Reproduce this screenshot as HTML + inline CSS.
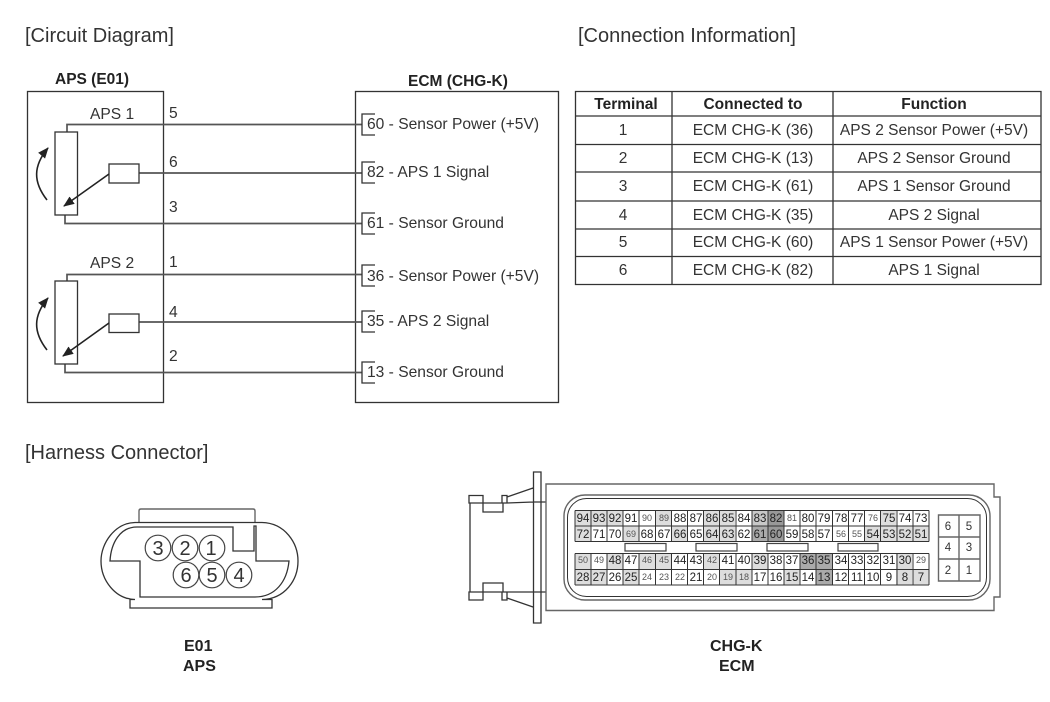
<!DOCTYPE html>
<html><head><meta charset="utf-8"><style>
html,body{margin:0;padding:0;background:#fff}
svg{display:block;filter:blur(.35px)}
text{font-family:"Liberation Sans",sans-serif;fill:#2a2a2a}
.h{font-size:20px;fill:#333}
.b{font-size:15.500px;font-weight:bold;fill:#222}
.l{font-size:15.600px;fill:#333}
.t{font-size:15.500px;text-anchor:middle;fill:#333}
.th{font-size:15.500px;font-weight:bold;text-anchor:middle;fill:#222}
.c{font-size:11.500px;text-anchor:middle;fill:#222}
.s{font-size:9px;text-anchor:middle;fill:#555}
.n{font-size:20px;text-anchor:middle;fill:#333}
.k{font-size:11.500px;text-anchor:middle;fill:#333}
.ln{fill:none;stroke:#333;stroke-width:1.300}
.ar{fill:none;stroke:#222;stroke-width:1.600}
.w{fill:none;stroke:#555;stroke-width:1.700}
.g{fill:none;stroke:#666;stroke-width:1.400}
</style></head><body>
<svg width="1050" height="702" viewBox="0 0 1050 702" xmlns="http://www.w3.org/2000/svg">
<defs><marker id="a" markerWidth="11" markerHeight="9" refX="10" refY="4.500" orient="auto" markerUnits="userSpaceOnUse"><path d="M0 0L11 4.500L0 9Z" fill="#222"/></marker></defs>
<rect width="1050" height="702" fill="#fff"/>
<text class="h" x="25" y="42">[Circuit Diagram]</text>
<text class="h" x="578" y="42">[Connection Information]</text>
<text class="h" x="25" y="459">[Harness Connector]</text>
<text class="b" x="55" y="84">APS (E01)</text>
<text class="b" x="408" y="86">ECM (CHG-K)</text>

<rect class="ln" x="27.500" y="91.500" width="136" height="311"/>
<rect class="ln" x="355.500" y="91.500" width="203" height="311"/>
<text class="l" x="90" y="119">APS 1</text>
<text class="l" x="90" y="268">APS 2</text>
<text class="l" x="169" y="118">5</text>
<text class="l" x="169" y="167">6</text>
<text class="l" x="169" y="212">3</text>
<text class="l" x="169" y="267">1</text>
<text class="l" x="169" y="317">4</text>
<text class="l" x="169" y="361">2</text>

<path class="w" d="M67 132V124.500H362"/>
<path class="w" d="M65 215V223.500H362"/>
<path class="w" d="M139 173H362"/>
<path class="w" d="M67 281V274.500H362"/>
<path class="w" d="M65 364V372.500H362"/>
<path class="w" d="M139 322H362"/>

<rect class="ln" x="55" y="132" width="22.500" height="83" style="fill:#fff"/>
<rect class="ln" x="55" y="281" width="22.500" height="83" style="fill:#fff"/>
<rect class="ln" x="109" y="164" width="30" height="19" style="fill:#fff"/>
<rect class="ln" x="109" y="314" width="30" height="18.500" style="fill:#fff"/>
<path class="ar" d="M109 174L64 206" marker-end="url(#a)"/>
<path class="ar" d="M109 323L63 356" marker-end="url(#a)"/>
<path class="ar" d="M47 200C33 182 33 166 48 148" marker-end="url(#a)"/>
<path class="ar" d="M47 350C33 332 33 316 48 298" marker-end="url(#a)"/>

<path class="ln" d="M375 114H362V135H375M375 162H362V183H375M375 213H362V234H375M375 265H362V286H375M375 311H362V332H375M375 362H362V383H375"/>
<text class="l" x="367" y="129">60 - Sensor Power (+5V)</text>
<text class="l" x="367" y="177">82 - APS 1 Signal</text>
<text class="l" x="367" y="228">61 - Sensor Ground</text>
<text class="l" x="367" y="281">36 - Sensor Power (+5V)</text>
<text class="l" x="367" y="326">35 - APS 2 Signal</text>
<text class="l" x="367" y="377">13 - Sensor Ground</text>

<path class="ln" d="M575.500 91.500H1041V284.500H575.500ZM672 91.500V284.500M833 91.500V284.500M575.500 116H1041M575.500 144.500H1041M575.500 172H1041M575.500 201H1041M575.500 229H1041M575.500 256.500H1041"/>
<text class="th" x="626" y="109">Terminal</text><text class="th" x="753" y="109">Connected to</text><text class="th" x="934" y="109">Function</text>
<text class="t" x="623" y="135">1</text><text class="t" x="753" y="135">ECM CHG-K (36)</text><text class="t" x="934" y="135">APS 2 Sensor Power (+5V)</text>
<text class="t" x="623" y="163">2</text><text class="t" x="753" y="163">ECM CHG-K (13)</text><text class="t" x="934" y="163">APS 2 Sensor Ground</text>
<text class="t" x="623" y="191">3</text><text class="t" x="753" y="191">ECM CHG-K (61)</text><text class="t" x="934" y="191">APS 1 Sensor Ground</text>
<text class="t" x="623" y="220">4</text><text class="t" x="753" y="220">ECM CHG-K (35)</text><text class="t" x="934" y="220">APS 2 Signal</text>
<text class="t" x="623" y="247">5</text><text class="t" x="753" y="247">ECM CHG-K (60)</text><text class="t" x="934" y="247">APS 1 Sensor Power (+5V)</text>
<text class="t" x="623" y="275">6</text><text class="t" x="753" y="275">ECM CHG-K (82)</text><text class="t" x="934" y="275">APS 1 Signal</text>

<path class="g" d="M139 522V511Q139 509 141 509H253Q255 509 255 511V522"/>
<path class="ln" d="M135 522.500H262C285 523 298 543 298 561C298 580 285 599 262 599.500H272V608H130V599.500H135C115 599 101 580 101 561C101 543 115 523 135 522.500Z"/>
<path class="ln" d="M110 561C111 543 120 527 137 527H233V551H254V526H256V561H289C287 582 275 597 255 597H140V561Z"/>
<g fill="#fff" stroke="#444" stroke-width="1.200">
<circle cx="158" cy="548" r="12.800"/><circle cx="185" cy="548" r="12.800"/><circle cx="212" cy="548" r="12.800"/>
<circle cx="186" cy="575" r="12.800"/><circle cx="212" cy="575" r="12.800"/><circle cx="239" cy="575" r="12.800"/>
</g>
<text class="n" x="158" y="555">3</text><text class="n" x="185" y="555">2</text><text class="n" x="211" y="555">1</text>
<text class="n" x="186" y="582">6</text><text class="n" x="212" y="582">5</text><text class="n" x="239" y="582">4</text>
<text class="b" x="184" y="651" style="font-size:16px">E01</text><text class="b" x="183" y="671" style="font-size:16px">APS</text>
<text class="b" x="710" y="651" style="font-size:16px">CHG-K</text><text class="b" x="719" y="671" style="font-size:16px">ECM</text>

<path class="ln" d="M533.500 472H541V623H533.500ZM470 503V592M469 495.500H483V503H469ZM483 503V512H503V503ZM502 495.500H507V503H502ZM507 503L533 502M507 497L533 488M533 502H546M469 592H483V600H469ZM483 592V583H503V592ZM502 592H507V600H502ZM507 592H533M507 598L533 607M533 592H546"/>
<path class="g" d="M546 484H994V497H1000V597H994V610.500H546Z"/>
<rect class="g" x="564" y="495" width="426" height="105" rx="21"/>
<rect class="ln" x="567.500" y="498.500" width="419" height="98" rx="19" style="stroke-width:1"/>

<g fill="#ddd">
<rect x="575" y="511" width="48" height="15"/><rect x="575" y="526" width="16" height="16"/><rect x="623" y="526" width="16" height="16"/><rect x="655" y="511" width="16" height="15"/><rect x="671" y="526" width="16" height="16"/><rect x="703" y="511" width="32" height="31"/><rect x="864" y="526" width="32" height="16"/><rect x="896" y="526" width="33" height="16"/><rect x="880" y="511" width="16" height="15"/>
<rect x="575" y="553" width="16" height="16"/><rect x="607" y="553" width="16" height="16"/><rect x="575" y="569" width="32" height="16"/><rect x="623" y="569" width="16" height="16"/><rect x="639" y="553" width="32" height="16"/><rect x="704" y="553" width="16" height="16"/><rect x="720" y="569" width="32" height="16"/><rect x="752" y="553" width="16" height="16"/><rect x="784" y="569" width="16" height="16"/><rect x="896" y="553" width="16" height="32"/><rect x="913" y="569" width="16" height="16"/>
</g>
<rect x="752" y="511" width="16" height="15" fill="#c8c8c8"/><rect x="752" y="526" width="16" height="16" fill="#aaa"/>
<rect x="768" y="511" width="16" height="31" fill="#999"/>
<rect x="800" y="553" width="32" height="16" fill="#aaa"/><rect x="816" y="569" width="16" height="16" fill="#aaa"/>
<path class="ln" style="stroke-width:1" d="M575 510.500H929M575 526H929M575 541.500H929M575 553.500H929M575 569.500H929M575 585H929M575 510.500V541.500M591 510.500V541.500M607 510.500V541.500M623 510.500V541.500M639 510.500V541.500M655.500 510.500V541.500M671.500 510.500V541.500M687.500 510.500V541.500M703.500 510.500V541.500M719.500 510.500V541.500M736 510.500V541.500M752 510.500V541.500M768 510.500V541.500M784 510.500V541.500M800 510.500V541.500M816 510.500V541.500M832.500 510.500V541.500M848.500 510.500V541.500M864.500 510.500V541.500M880.500 510.500V541.500M897 510.500V541.500M913 510.500V541.500M929 510.500V541.500M575 553.500V585M591 553.500V585M607 553.500V585M623 553.500V585M639 553.500V585M655.500 553.500V585M671.500 553.500V585M687.500 553.500V585M703.500 553.500V585M719.500 553.500V585M736 553.500V585M752 553.500V585M768 553.500V585M784 553.500V585M800 553.500V585M816 553.500V585M832.500 553.500V585M848.500 553.500V585M864.500 553.500V585M880.500 553.500V585M897 553.500V585M913 553.500V585M929 553.500V585"/>
<g fill="#fff" stroke="#444" stroke-width="1.200">
<rect x="625" y="543.500" width="41" height="7.500"/><rect x="696" y="543.500" width="41" height="7.500"/><rect x="767" y="543.500" width="41" height="7.500"/><rect x="838" y="543.500" width="40" height="7.500"/>
</g>

<text class="c" x="583" y="522">94</text><text class="c" x="599" y="522">93</text><text class="c" x="615" y="522">92</text><text class="c" x="631" y="522">91</text><text class="s" x="647" y="521">90</text><text class="s" x="664" y="521">89</text><text class="c" x="680" y="522">88</text><text class="c" x="696" y="522">87</text><text class="c" x="712" y="522">86</text><text class="c" x="728" y="522">85</text><text class="c" x="744" y="522">84</text><text class="c" x="760" y="522">83</text><text class="c" x="776" y="522">82</text><text class="s" x="792" y="521">81</text><text class="c" x="808" y="522">80</text><text class="c" x="824" y="522">79</text><text class="c" x="841" y="522">78</text><text class="c" x="857" y="522">77</text><text class="s" x="873" y="521">76</text><text class="c" x="889" y="522">75</text><text class="c" x="905" y="522">74</text><text class="c" x="921" y="522">73</text>

<text class="c" x="583" y="538">72</text><text class="c" x="599" y="538">71</text><text class="c" x="615" y="538">70</text><text class="s" x="631" y="537">69</text><text class="c" x="647" y="538">68</text><text class="c" x="664" y="538">67</text><text class="c" x="680" y="538">66</text><text class="c" x="696" y="538">65</text><text class="c" x="712" y="538">64</text><text class="c" x="728" y="538">63</text><text class="c" x="744" y="538">62</text><text class="c" x="760" y="538">61</text><text class="c" x="776" y="538">60</text><text class="c" x="792" y="538">59</text><text class="c" x="808" y="538">58</text><text class="c" x="824" y="538">57</text><text class="s" x="841" y="537">56</text><text class="s" x="857" y="537">55</text><text class="c" x="873" y="538">54</text><text class="c" x="889" y="538">53</text><text class="c" x="905" y="538">52</text><text class="c" x="921" y="538">51</text>

<text class="s" x="583" y="563">50</text><text class="s" x="599" y="563">49</text><text class="c" x="615" y="564">48</text><text class="c" x="631" y="564">47</text><text class="s" x="647" y="563">46</text><text class="s" x="664" y="563">45</text><text class="c" x="680" y="564">44</text><text class="c" x="696" y="564">43</text><text class="s" x="712" y="563">42</text><text class="c" x="728" y="564">41</text><text class="c" x="744" y="564">40</text><text class="c" x="760" y="564">39</text><text class="c" x="776" y="564">38</text><text class="c" x="792" y="564">37</text><text class="c" x="808" y="564">36</text><text class="c" x="824" y="564">35</text><text class="c" x="841" y="564">34</text><text class="c" x="857" y="564">33</text><text class="c" x="873" y="564">32</text><text class="c" x="889" y="564">31</text><text class="c" x="905" y="564">30</text><text class="s" x="921" y="563">29</text>

<text class="c" x="583" y="581">28</text><text class="c" x="599" y="581">27</text><text class="c" x="615" y="581">26</text><text class="c" x="631" y="581">25</text><text class="s" x="647" y="580">24</text><text class="s" x="664" y="580">23</text><text class="s" x="680" y="580">22</text><text class="c" x="696" y="581">21</text><text class="s" x="712" y="580">20</text><text class="s" x="728" y="580">19</text><text class="s" x="744" y="580">18</text><text class="c" x="760" y="581">17</text><text class="c" x="776" y="581">16</text><text class="c" x="792" y="581">15</text><text class="c" x="808" y="581">14</text><text class="c" x="824" y="581">13</text><text class="c" x="841" y="581">12</text><text class="c" x="857" y="581">11</text><text class="c" x="873" y="581">10</text><text class="c" x="889" y="581">9</text><text class="c" x="905" y="581">8</text><text class="c" x="921" y="581">7</text>

<path class="g" d="M938.500 515H980V581H938.500ZM959 515V581M938.500 537H980M938.500 559H980"/>
<text class="k" x="948" y="530">6</text><text class="k" x="969" y="530">5</text>
<text class="k" x="948" y="551">4</text><text class="k" x="969" y="551">3</text>
<text class="k" x="948" y="574">2</text><text class="k" x="969" y="574">1</text>
</svg>
</body></html>
